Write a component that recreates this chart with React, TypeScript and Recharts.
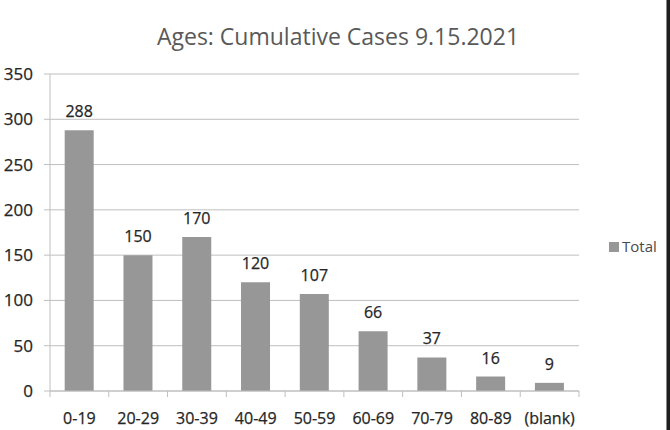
import React from 'react';
import { BarChart, Bar, XAxis, YAxis, CartesianGrid, LabelList } from 'recharts';

const categories = ['0-19', '20-29', '30-39', '40-49', '50-59', '60-69', '70-79', '80-89', '(blank)'];
const totals = [288, 150, 170, 120, 107, 66, 37, 16, 9];
const yTicks = [0, 50, 100, 150, 200, 250, 300, 350];
const title = 'Ages: Cumulative Cases 9.15.2021';
const seriesName = 'Total';

const data = categories.map((c, i) => ({ category: c, total: totals[i] }));

const FONT = '"Open Sans", "DejaVu Sans", sans-serif';
const GRID = '#bfbfbf';
const BAR = '#979797';
const TEXT = '#262626';
const TICK_SIZE = 6;
const TICK_MARGIN = 10;

const XTick = (props: any) => {
  const { x, y, payload, index, visibleTicksCount } = props;
  const half = payload && payload.offset ? payload.offset : 0;
  const axisY = y - TICK_SIZE - TICK_MARGIN;
  const isLast = index === visibleTicksCount - 1;
  return (
    <g>
      <line x1={x - half} x2={x - half} y1={axisY} y2={axisY + TICK_SIZE} stroke={GRID} strokeWidth={1} />
      {isLast ? (
        <line x1={x + half} x2={x + half} y1={axisY} y2={axisY + TICK_SIZE} stroke={GRID} strokeWidth={1} />
      ) : null}
      <text x={x} y={axisY + 33} textAnchor="middle" fill={TEXT} stroke={TEXT} strokeWidth={0.25} fontSize={16} fontFamily={FONT}>
        {payload.value}
      </text>
    </g>
  );
};

export default function App() {
  return (
    <div style={{ position: 'absolute', left: 0, top: 0, width: 670, height: 430, background: '#ffffff', overflow: 'hidden' }}>
      <BarChart
        width={670}
        height={430}
        data={data}
        margin={{ top: 74, right: 91, bottom: 9, left: 0 }}
        barCategoryGap="25%"
      >
        <CartesianGrid vertical={false} horizontal stroke={GRID} strokeWidth={1} />
        <XAxis
          dataKey="category"
          height={30}
          axisLine={{ stroke: GRID, strokeWidth: 1 }}
          tickLine={false}
          tickSize={TICK_SIZE}
          tickMargin={TICK_MARGIN}
          interval={0}
          tick={<XTick />}
        />
        <YAxis
          width={50}
          domain={[0, 350]}
          ticks={yTicks}
          interval={0}
          axisLine={{ stroke: GRID, strokeWidth: 1 }}
          tickLine={{ stroke: GRID, strokeWidth: 1 }}
          tickSize={6}
          tickMargin={11}
          tick={{ fill: TEXT, stroke: TEXT, strokeWidth: 0.25, fontSize: 17, fontFamily: FONT }}
        />
        <Bar dataKey="total" name={seriesName} fill={BAR} isAnimationActive={false}>
          <LabelList dataKey="total" position="top" offset={13} fill={TEXT} stroke={TEXT} strokeWidth={0.25} fontSize={16} fontFamily={FONT} />
        </Bar>
      </BarChart>
      <svg width={670} height={430} style={{ position: 'absolute', left: 0, top: 0, pointerEvents: 'none' }}>
        <text x={338} y={45} textAnchor="middle" fill="#595959" fontSize={23} fontFamily={FONT}>
          {title}
        </text>
        <rect x={609} y={242} width={10} height={10} fill={BAR} />
        <text x={622} y={252} fill="#4a4a4a" fontSize={15} fontFamily={FONT}>
          {seriesName}
        </text>
      </svg>
      <div style={{ position: 'absolute', left: 666, top: 0, width: 1, height: 430, background: '#8a8a8a' }} />
      <div style={{ position: 'absolute', left: 667, top: 0, width: 3, height: 430, background: '#1e1e1e' }} />
    </div>
  );
}
